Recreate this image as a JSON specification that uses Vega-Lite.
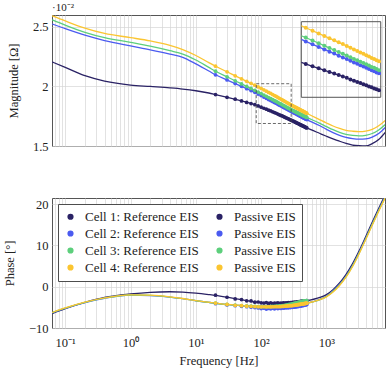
{
 "$schema": "https://vega.github.io/schema/vega-lite/v6.json",
 "background": "white",
 "padding": {"left": 2, "top": 1, "right": 1, "bottom": 2},
 "spacing": 44,
 "config": {
  "view": {"stroke": "#555555", "strokeWidth": 1},
  "font": "Liberation Serif",
  "axis": {"domain": false, "ticks": false, "labelFont": "Liberation Serif", "labelFontSize": 12.5, "labelColor": "#222222", "titleFont": "Liberation Serif", "titleFontSize": 12.5, "titleFontWeight": "normal", "titleColor": "#222222", "gridColor": "#d6d6d6", "gridWidth": 0.7, "labelPadding": 4},
  "axisY": {"titlePadding": 12},
  "axisX": {"labelPadding": 8, "titlePadding": 6},
  "legend": {"labelFont": "Liberation Serif", "titleFont": "Liberation Serif"}
 },
 "resolve": {"scale": {"x": "independent", "y": "independent", "color": "independent"}, "legend": {"color": "independent"}},
 "datasets": {
  "ref": [
   {"s":"R1","f":0.063,"m":2.206,"p":-6.5},{"s":"R1","f":0.1,"m":2.16,"p":-5.3},{"s":"R1","f":0.2,"m":2.09,"p":-3.8},{"s":"R1","f":0.4,"m":2.045,"p":-2.6},{"s":"R1","f":1,"m":2.012,"p":-1.75},{"s":"R1","f":2,"m":2.0,"p":-1.35},{"s":"R1","f":4,"m":1.988,"p":-1.22},{"s":"R1","f":6.3,"m":1.978,"p":-1.3},{"s":"R1","f":10,"m":1.964,"p":-1.55},{"s":"R1","f":15.8,"m":1.945,"p":-1.9},{"s":"R1","f":20,"m":1.932,"p":-2.1},{"s":"R1","f":31.6,"m":1.906,"p":-2.6},{"s":"R1","f":50,"m":1.878,"p":-3.15},{"s":"R1","f":79.4,"m":1.848,"p":-3.65},{"s":"R1","f":84,"m":1.843,"p":-3.7},{"s":"R1","f":100,"m":1.826,"p":-3.85},{"s":"R1","f":126,"m":1.804,"p":-3.95},{"s":"R1","f":158,"m":1.782,"p":-4.0},{"s":"R1","f":200,"m":1.757,"p":-4.0},{"s":"R1","f":288,"m":1.717,"p":-3.85},{"s":"R1","f":316,"m":1.706,"p":-3.8},{"s":"R1","f":500,"m":1.652,"p":-3.4},{"s":"R1","f":794,"m":1.605,"p":-2.6},{"s":"R1","f":1000,"m":1.582,"p":-1.9},{"s":"R1","f":1259,"m":1.56,"p":-0.7},{"s":"R1","f":1585,"m":1.54,"p":0.9},{"s":"R1","f":1995,"m":1.522,"p":3.0},{"s":"R1","f":2512,"m":1.508,"p":5.6},{"s":"R1","f":3162,"m":1.502,"p":8.7},{"s":"R1","f":3981,"m":1.5,"p":12.1},{"s":"R1","f":5012,"m":1.52,"p":15.6},{"s":"R1","f":6310,"m":1.555,"p":19.0},{"s":"R1","f":7943,"m":1.615,"p":22.3},
   {"s":"R2","f":0.063,"m":2.525,"p":-6.35},{"s":"R2","f":0.1,"m":2.485,"p":-5.25},{"s":"R2","f":0.2,"m":2.43,"p":-3.85},{"s":"R2","f":0.4,"m":2.385,"p":-2.8},{"s":"R2","f":1,"m":2.34,"p":-2.05},{"s":"R2","f":2,"m":2.308,"p":-2.15},{"s":"R2","f":4,"m":2.272,"p":-2.5},{"s":"R2","f":6.3,"m":2.245,"p":-2.9},{"s":"R2","f":10,"m":2.19,"p":-3.4},{"s":"R2","f":15.8,"m":2.13,"p":-3.8},{"s":"R2","f":20,"m":2.098,"p":-4.0},{"s":"R2","f":31.6,"m":2.049,"p":-4.35},{"s":"R2","f":50,"m":2.001,"p":-4.6},{"s":"R2","f":79.4,"m":1.951,"p":-4.8},{"s":"R2","f":84,"m":1.945,"p":-4.82},{"s":"R2","f":100,"m":1.923,"p":-4.85},{"s":"R2","f":126,"m":1.895,"p":-4.85},{"s":"R2","f":158,"m":1.866,"p":-4.8},{"s":"R2","f":200,"m":1.837,"p":-4.75},{"s":"R2","f":288,"m":1.791,"p":-4.55},{"s":"R2","f":316,"m":1.779,"p":-4.5},{"s":"R2","f":500,"m":1.722,"p":-4.0},{"s":"R2","f":794,"m":1.67,"p":-3.05},{"s":"R2","f":1000,"m":1.64,"p":-2.3},{"s":"R2","f":1259,"m":1.613,"p":-1.0},{"s":"R2","f":1585,"m":1.59,"p":0.6},{"s":"R2","f":1995,"m":1.572,"p":2.6},{"s":"R2","f":2512,"m":1.562,"p":5.2},{"s":"R2","f":3162,"m":1.557,"p":8.3},{"s":"R2","f":3981,"m":1.56,"p":11.7},{"s":"R2","f":5012,"m":1.575,"p":15.2},{"s":"R2","f":6310,"m":1.605,"p":18.6},{"s":"R2","f":7943,"m":1.655,"p":21.9},
   {"s":"R3","f":0.063,"m":2.559,"p":-6.3},{"s":"R3","f":0.1,"m":2.515,"p":-5.2},{"s":"R3","f":0.2,"m":2.455,"p":-3.8},{"s":"R3","f":0.4,"m":2.41,"p":-2.75},{"s":"R3","f":1,"m":2.37,"p":-2.0},{"s":"R3","f":2,"m":2.338,"p":-2.1},{"s":"R3","f":4,"m":2.3,"p":-2.5},{"s":"R3","f":6.3,"m":2.272,"p":-2.9},{"s":"R3","f":10,"m":2.222,"p":-3.4},{"s":"R3","f":15.8,"m":2.16,"p":-3.8},{"s":"R3","f":20,"m":2.128,"p":-4.0},{"s":"R3","f":31.6,"m":2.075,"p":-4.35},{"s":"R3","f":50,"m":2.021,"p":-4.6},{"s":"R3","f":79.4,"m":1.968,"p":-4.8},{"s":"R3","f":84,"m":1.961,"p":-4.82},{"s":"R3","f":100,"m":1.94,"p":-4.85},{"s":"R3","f":126,"m":1.911,"p":-4.85},{"s":"R3","f":158,"m":1.882,"p":-4.8},{"s":"R3","f":200,"m":1.853,"p":-4.75},{"s":"R3","f":288,"m":1.805,"p":-4.55},{"s":"R3","f":316,"m":1.794,"p":-4.5},{"s":"R3","f":500,"m":1.74,"p":-4.0},{"s":"R3","f":794,"m":1.69,"p":-3.1},{"s":"R3","f":1000,"m":1.663,"p":-2.35},{"s":"R3","f":1259,"m":1.637,"p":-1.15},{"s":"R3","f":1585,"m":1.615,"p":0.45},{"s":"R3","f":1995,"m":1.598,"p":2.45},{"s":"R3","f":2512,"m":1.589,"p":5.05},{"s":"R3","f":3162,"m":1.585,"p":8.15},{"s":"R3","f":3981,"m":1.59,"p":11.55},{"s":"R3","f":5012,"m":1.605,"p":15.05},{"s":"R3","f":6310,"m":1.635,"p":18.45},{"s":"R3","f":7943,"m":1.68,"p":21.75},
   {"s":"R4","f":0.063,"m":2.593,"p":-6.25},{"s":"R4","f":0.1,"m":2.55,"p":-5.15},{"s":"R4","f":0.2,"m":2.49,"p":-3.75},{"s":"R4","f":0.4,"m":2.445,"p":-2.7},{"s":"R4","f":1,"m":2.41,"p":-1.95},{"s":"R4","f":2,"m":2.382,"p":-2.05},{"s":"R4","f":4,"m":2.345,"p":-2.45},{"s":"R4","f":6.3,"m":2.31,"p":-2.85},{"s":"R4","f":10,"m":2.26,"p":-3.35},{"s":"R4","f":15.8,"m":2.2,"p":-3.75},{"s":"R4","f":20,"m":2.17,"p":-3.95},{"s":"R4","f":31.6,"m":2.117,"p":-4.3},{"s":"R4","f":50,"m":2.064,"p":-4.55},{"s":"R4","f":79.4,"m":2.011,"p":-4.75},{"s":"R4","f":84,"m":2.005,"p":-4.78},{"s":"R4","f":100,"m":1.983,"p":-4.82},{"s":"R4","f":126,"m":1.954,"p":-4.82},{"s":"R4","f":158,"m":1.925,"p":-4.78},{"s":"R4","f":200,"m":1.894,"p":-4.72},{"s":"R4","f":288,"m":1.844,"p":-4.52},{"s":"R4","f":316,"m":1.832,"p":-4.47},{"s":"R4","f":500,"m":1.775,"p":-4.0},{"s":"R4","f":794,"m":1.72,"p":-3.15},{"s":"R4","f":1000,"m":1.693,"p":-2.45},{"s":"R4","f":1259,"m":1.668,"p":-1.3},{"s":"R4","f":1585,"m":1.648,"p":0.3},{"s":"R4","f":1995,"m":1.632,"p":2.3},{"s":"R4","f":2512,"m":1.624,"p":4.9},{"s":"R4","f":3162,"m":1.62,"p":8.0},{"s":"R4","f":3981,"m":1.625,"p":11.4},{"s":"R4","f":5012,"m":1.64,"p":14.9},{"s":"R4","f":6310,"m":1.67,"p":18.3},{"s":"R4","f":7943,"m":1.715,"p":21.6}
  ],
  "pas": [
   {"s":"P1","f":20,"m":1.932,"p":-2.05},{"s":"P1","f":30,"m":1.909,"p":-2.55},{"s":"P1","f":40,"m":1.893,"p":-2.95},{"s":"P1","f":50,"m":1.878,"p":-3.1},{"s":"P1","f":60,"m":1.866,"p":-3.4},{"s":"P1","f":70,"m":1.856,"p":-3.45},{"s":"P1","f":80,"m":1.847,"p":-3.75},{"s":"P1","f":90,"m":1.836,"p":-3.7},{"s":"P1","f":100,"m":1.826,"p":-3.9},{"s":"P1","f":110,"m":1.817,"p":-3.95},{"s":"P1","f":120,"m":1.809,"p":-3.85},{"s":"P1","f":130,"m":1.801,"p":-4.05},{"s":"P1","f":140,"m":1.794,"p":-3.9},{"s":"P1","f":150,"m":1.787,"p":-4.1},{"s":"P1","f":160,"m":1.781,"p":-3.95},{"s":"P1","f":170,"m":1.775,"p":-4.05},{"s":"P1","f":180,"m":1.768,"p":-3.9},{"s":"P1","f":190,"m":1.762,"p":-4.1},{"s":"P1","f":200,"m":1.757,"p":-3.95},{"s":"P1","f":210,"m":1.752,"p":-4.05},{"s":"P1","f":220,"m":1.747,"p":-3.9},{"s":"P1","f":230,"m":1.742,"p":-4.05},{"s":"P1","f":240,"m":1.737,"p":-3.9},{"s":"P1","f":250,"m":1.733,"p":-4.0},{"s":"P1","f":260,"m":1.728,"p":-3.85},{"s":"P1","f":270,"m":1.724,"p":-4.0},{"s":"P1","f":280,"m":1.72,"p":-3.85},{"s":"P1","f":290,"m":1.716,"p":-3.95},{"s":"P1","f":300,"m":1.712,"p":-3.8},{"s":"P1","f":310,"m":1.709,"p":-3.9},{"s":"P1","f":320,"m":1.705,"p":-3.75},{"s":"P1","f":330,"m":1.701,"p":-3.85},{"s":"P1","f":340,"m":1.698,"p":-3.7},{"s":"P1","f":350,"m":1.694,"p":-3.8},{"s":"P1","f":360,"m":1.691,"p":-3.65},{"s":"P1","f":370,"m":1.688,"p":-3.75},{"s":"P1","f":380,"m":1.684,"p":-3.6},{"s":"P1","f":390,"m":1.681,"p":-3.7},{"s":"P1","f":400,"m":1.678,"p":-3.55},{"s":"P1","f":410,"m":1.675,"p":-3.65},{"s":"P1","f":420,"m":1.673,"p":-3.5},{"s":"P1","f":430,"m":1.67,"p":-3.6},{"s":"P1","f":440,"m":1.667,"p":-3.45},{"s":"P1","f":450,"m":1.665,"p":-3.55},{"s":"P1","f":460,"m":1.662,"p":-3.4},{"s":"P1","f":470,"m":1.659,"p":-3.5},{"s":"P1","f":480,"m":1.657,"p":-3.4},{"s":"P1","f":490,"m":1.654,"p":-3.45},{"s":"P1","f":500,"m":1.652,"p":-3.35},
   {"s":"P2","f":20,"m":2.098,"p":-4.1},{"s":"P2","f":30,"m":2.055,"p":-4.4},{"s":"P2","f":40,"m":2.024,"p":-4.6},{"s":"P2","f":50,"m":2.001,"p":-4.75},{"s":"P2","f":60,"m":1.981,"p":-4.85},{"s":"P2","f":70,"m":1.965,"p":-4.95},{"s":"P2","f":80,"m":1.951,"p":-5.05},{"s":"P2","f":90,"m":1.936,"p":-5.15},{"s":"P2","f":100,"m":1.923,"p":-5.3},{"s":"P2","f":110,"m":1.911,"p":-5.2},{"s":"P2","f":120,"m":1.9,"p":-5.4},{"s":"P2","f":130,"m":1.89,"p":-5.25},{"s":"P2","f":140,"m":1.882,"p":-5.35},{"s":"P2","f":150,"m":1.873,"p":-5.2},{"s":"P2","f":160,"m":1.865,"p":-5.35},{"s":"P2","f":170,"m":1.858,"p":-5.15},{"s":"P2","f":180,"m":1.85,"p":-5.3},{"s":"P2","f":190,"m":1.843,"p":-5.1},{"s":"P2","f":200,"m":1.837,"p":-5.25},{"s":"P2","f":210,"m":1.831,"p":-5.05},{"s":"P2","f":220,"m":1.825,"p":-5.2},{"s":"P2","f":230,"m":1.82,"p":-5.0},{"s":"P2","f":240,"m":1.814,"p":-5.15},{"s":"P2","f":250,"m":1.809,"p":-4.95},{"s":"P2","f":260,"m":1.804,"p":-5.1},{"s":"P2","f":270,"m":1.799,"p":-4.9},{"s":"P2","f":280,"m":1.795,"p":-5.05},{"s":"P2","f":290,"m":1.79,"p":-4.85},{"s":"P2","f":300,"m":1.786,"p":-5.0},{"s":"P2","f":310,"m":1.782,"p":-4.85},{"s":"P2","f":320,"m":1.778,"p":-4.95},{"s":"P2","f":330,"m":1.774,"p":-4.8},{"s":"P2","f":340,"m":1.771,"p":-4.9},{"s":"P2","f":350,"m":1.767,"p":-4.75},{"s":"P2","f":360,"m":1.763,"p":-4.85},{"s":"P2","f":370,"m":1.76,"p":-4.7},{"s":"P2","f":380,"m":1.756,"p":-4.75},{"s":"P2","f":390,"m":1.753,"p":-4.6},{"s":"P2","f":400,"m":1.75,"p":-4.7},{"s":"P2","f":410,"m":1.747,"p":-4.55},{"s":"P2","f":420,"m":1.744,"p":-4.6},{"s":"P2","f":430,"m":1.741,"p":-4.5},{"s":"P2","f":440,"m":1.738,"p":-4.55},{"s":"P2","f":450,"m":1.735,"p":-4.45},{"s":"P2","f":460,"m":1.732,"p":-4.45},{"s":"P2","f":470,"m":1.73,"p":-4.35},{"s":"P2","f":480,"m":1.727,"p":-4.4},{"s":"P2","f":490,"m":1.725,"p":-4.3},{"s":"P2","f":500,"m":1.722,"p":-4.3},
   {"s":"P3","f":20,"m":2.128,"p":-3.95},{"s":"P3","f":30,"m":2.081,"p":-4.25},{"s":"P3","f":40,"m":2.047,"p":-4.45},{"s":"P3","f":50,"m":2.021,"p":-4.55},{"s":"P3","f":60,"m":2.0,"p":-4.65},{"s":"P3","f":70,"m":1.983,"p":-4.7},{"s":"P3","f":80,"m":1.968,"p":-4.75},{"s":"P3","f":90,"m":1.953,"p":-4.8},{"s":"P3","f":100,"m":1.94,"p":-4.8},{"s":"P3","f":110,"m":1.928,"p":-4.8},{"s":"P3","f":120,"m":1.917,"p":-4.8},{"s":"P3","f":130,"m":1.907,"p":-4.8},{"s":"P3","f":140,"m":1.898,"p":-4.75},{"s":"P3","f":150,"m":1.889,"p":-4.75},{"s":"P3","f":160,"m":1.881,"p":-4.75},{"s":"P3","f":170,"m":1.874,"p":-4.7},{"s":"P3","f":180,"m":1.866,"p":-4.7},{"s":"P3","f":190,"m":1.858,"p":-4.65},{"s":"P3","f":200,"m":1.853,"p":-4.65},{"s":"P3","f":210,"m":1.846,"p":-4.6},{"s":"P3","f":220,"m":1.84,"p":-4.55},{"s":"P3","f":230,"m":1.835,"p":-4.5},{"s":"P3","f":240,"m":1.829,"p":-4.45},{"s":"P3","f":250,"m":1.823,"p":-4.4},{"s":"P3","f":260,"m":1.819,"p":-4.35},{"s":"P3","f":270,"m":1.814,"p":-4.3},{"s":"P3","f":280,"m":1.809,"p":-4.25},{"s":"P3","f":290,"m":1.804,"p":-4.2},{"s":"P3","f":300,"m":1.8,"p":-4.15},{"s":"P3","f":310,"m":1.797,"p":-4.1},{"s":"P3","f":320,"m":1.793,"p":-4.05},{"s":"P3","f":330,"m":1.789,"p":-4.0},{"s":"P3","f":340,"m":1.786,"p":-3.95},{"s":"P3","f":350,"m":1.782,"p":-3.9},{"s":"P3","f":360,"m":1.779,"p":-3.85},{"s":"P3","f":370,"m":1.776,"p":-3.8},{"s":"P3","f":380,"m":1.772,"p":-3.75},{"s":"P3","f":390,"m":1.769,"p":-3.7},{"s":"P3","f":400,"m":1.766,"p":-3.65},{"s":"P3","f":410,"m":1.764,"p":-3.6},{"s":"P3","f":420,"m":1.761,"p":-3.58},{"s":"P3","f":430,"m":1.758,"p":-3.55},{"s":"P3","f":440,"m":1.755,"p":-3.5},{"s":"P3","f":450,"m":1.752,"p":-3.48},{"s":"P3","f":460,"m":1.75,"p":-3.45},{"s":"P3","f":470,"m":1.748,"p":-3.42},{"s":"P3","f":480,"m":1.745,"p":-3.4},{"s":"P3","f":490,"m":1.743,"p":-3.38},{"s":"P3","f":500,"m":1.74,"p":-3.35},
   {"s":"P4","f":20,"m":2.17,"p":-3.95},{"s":"P4","f":30,"m":2.123,"p":-4.3},{"s":"P4","f":40,"m":2.089,"p":-4.5},{"s":"P4","f":50,"m":2.064,"p":-4.6},{"s":"P4","f":60,"m":2.043,"p":-4.7},{"s":"P4","f":70,"m":2.026,"p":-4.75},{"s":"P4","f":80,"m":2.011,"p":-4.8},{"s":"P4","f":90,"m":1.996,"p":-4.85},{"s":"P4","f":100,"m":1.983,"p":-4.9},{"s":"P4","f":110,"m":1.971,"p":-4.85},{"s":"P4","f":120,"m":1.96,"p":-4.9},{"s":"P4","f":130,"m":1.95,"p":-4.85},{"s":"P4","f":140,"m":1.941,"p":-4.9},{"s":"P4","f":150,"m":1.932,"p":-4.85},{"s":"P4","f":160,"m":1.924,"p":-4.85},{"s":"P4","f":170,"m":1.916,"p":-4.8},{"s":"P4","f":180,"m":1.908,"p":-4.85},{"s":"P4","f":190,"m":1.9,"p":-4.8},{"s":"P4","f":200,"m":1.894,"p":-4.8},{"s":"P4","f":210,"m":1.887,"p":-4.75},{"s":"P4","f":220,"m":1.881,"p":-4.75},{"s":"P4","f":230,"m":1.875,"p":-4.7},{"s":"P4","f":240,"m":1.869,"p":-4.7},{"s":"P4","f":250,"m":1.863,"p":-4.65},{"s":"P4","f":260,"m":1.858,"p":-4.65},{"s":"P4","f":270,"m":1.853,"p":-4.6},{"s":"P4","f":280,"m":1.848,"p":-4.6},{"s":"P4","f":290,"m":1.843,"p":-4.55},{"s":"P4","f":300,"m":1.839,"p":-4.55},{"s":"P4","f":310,"m":1.835,"p":-4.5},{"s":"P4","f":320,"m":1.831,"p":-4.5},{"s":"P4","f":330,"m":1.827,"p":-4.45},{"s":"P4","f":340,"m":1.824,"p":-4.45},{"s":"P4","f":350,"m":1.82,"p":-4.4},{"s":"P4","f":360,"m":1.816,"p":-4.35},{"s":"P4","f":370,"m":1.813,"p":-4.35},{"s":"P4","f":380,"m":1.809,"p":-4.3},{"s":"P4","f":390,"m":1.806,"p":-4.3},{"s":"P4","f":400,"m":1.803,"p":-4.25},{"s":"P4","f":410,"m":1.8,"p":-4.2},{"s":"P4","f":420,"m":1.797,"p":-4.2},{"s":"P4","f":430,"m":1.794,"p":-4.15},{"s":"P4","f":440,"m":1.791,"p":-4.15},{"s":"P4","f":450,"m":1.788,"p":-4.1},{"s":"P4","f":460,"m":1.785,"p":-4.1},{"s":"P4","f":470,"m":1.783,"p":-4.05},{"s":"P4","f":480,"m":1.78,"p":-4.05},{"s":"P4","f":490,"m":1.778,"p":-4.0},{"s":"P4","f":500,"m":1.775,"p":-4.0}
  ]
 },
 "vconcat": [
  {
   "width": 333, "height": 131,
   "resolve": {"scale": {"x": "independent", "y": "independent"}},
   "layer": [
    {
     "layer": [
      {
       "data": {"name": "ref"},
       "mark": {"type": "line", "strokeWidth": 1.3, "clip": true, "interpolate": "monotone"},
       "encoding": {
        "x": {"field": "f", "type": "quantitative", "scale": {"type": "log", "domain": [0.0627, 7870], "nice": false},
              "axis": {"labels": false, "title": null, "grid": true,
                       "values": [0.07,0.08,0.09,0.1,0.2,0.3,0.4,0.5,0.6,0.7,0.8,0.9,1,2,3,4,5,6,7,8,9,10,20,30,40,50,60,70,80,90,100,200,300,400,500,600,700,800,900,1000,2000,3000,4000,5000,6000,7000]}},
        "y": {"field": "m", "type": "quantitative", "scale": {"domain": [1.5, 2.6], "nice": false, "zero": false},
              "axis": {"values": [1.5, 2, 2.5], "title": "Magnitude [Ω]", "labelExpr": "datum.value == 2 ? '2' : datum.label"}},
        "color": {"field": "s", "type": "nominal", "legend": null,
                  "scale": {"domain": ["R1","R2","R3","R4","P1","P2","P3","P4"], "range": ["#2a2265","#4b5bf0","#5dcf7c","#fbc531","#2a2265","#4b5bf0","#5dcf7c","#fbc531"]}}
       }
      },
      {
       "data": {"name": "pas"},
       "mark": {"type": "circle", "size": 14, "opacity": 1, "clip": true},
       "encoding": {
        "x": {"field": "f", "type": "quantitative"},
        "y": {"field": "m", "type": "quantitative"},
        "color": {"field": "s", "type": "nominal", "legend": null}
       }
      },
      {
       "data": {"values": [{"zoom": "window"}]},
       "mark": {"type": "rect", "fillOpacity": 0, "stroke": "#444444", "strokeWidth": 0.8, "strokeDash": [3, 2]},
       "encoding": {
        "x": {"datum": 84, "type": "quantitative"},
        "x2": {"datum": 288},
        "y": {"datum": 1.689, "type": "quantitative"},
        "y2": {"datum": 2.023}
       }
      },
      {
       "data": {"values": [{"zoom": "window"}]},
       "mark": {"type": "text", "text": "·10⁻²", "align": "left", "baseline": "bottom", "dy": -2, "fontSize": 11, "font": "Liberation Serif", "color": "#222222"},
       "encoding": {
        "x": {"datum": 0.0627, "type": "quantitative"},
        "y": {"datum": 2.6, "type": "quantitative"}
       }
      }
     ]
    },
    {
     "layer": [
      {
       "data": {"values": [{"zoom": "window"}]},
       "mark": {"type": "rect", "fillOpacity": 0, "stroke": "#555555", "strokeWidth": 1},
       "encoding": {
        "x": {"datum": 84, "type": "quantitative", "scale": {"type": "log", "domain": [1.757, 307.7], "nice": false}, "axis": null},
        "x2": {"datum": 288},
        "y": {"datum": 1.689, "type": "quantitative", "scale": {"domain": [1.4738, 2.0526], "nice": false, "zero": false}, "axis": null},
        "y2": {"datum": 2.023}
       }
      },
      {
       "data": {"name": "ref"},
       "transform": [{"filter": "datum.f >= 84 && datum.f <= 288"}],
       "mark": {"type": "line", "strokeWidth": 1.3, "interpolate": "monotone"},
       "encoding": {
        "x": {"field": "f", "type": "quantitative", "axis": null},
        "y": {"field": "m", "type": "quantitative", "axis": null},
        "color": {"field": "s", "type": "nominal", "legend": null}
       }
      },
      {
       "data": {"name": "pas"},
       "transform": [{"filter": "datum.f >= 84 && datum.f <= 288"}],
       "mark": {"type": "circle", "size": 16, "opacity": 1},
       "encoding": {
        "x": {"field": "f", "type": "quantitative", "axis": null},
        "y": {"field": "m", "type": "quantitative", "axis": null},
        "color": {"field": "s", "type": "nominal", "legend": null}
       }
      }
     ]
    }
   ]
  },
  {
   "width": 333, "height": 130,
   "layer": [
    {
     "data": {"name": "ref"},
     "mark": {"type": "line", "strokeWidth": 1.3, "clip": true, "interpolate": "monotone"},
     "encoding": {
      "x": {"field": "f", "type": "quantitative", "scale": {"type": "log", "domain": [0.0627, 7870], "nice": false},
            "axis": {"title": "Frequency [Hz]", "grid": true,
                     "values": [0.07,0.08,0.09,0.1,0.2,0.3,0.4,0.5,0.6,0.7,0.8,0.9,1,2,3,4,5,6,7,8,9,10,20,30,40,50,60,70,80,90,100,200,300,400,500,600,700,800,900,1000,2000,3000,4000,5000,6000,7000],
                     "labelExpr": "datum.value == 0.1 ? '10⁻¹' : datum.value == 1 ? '10⁰' : datum.value == 10 ? '10¹' : datum.value == 100 ? '10²' : datum.value == 1000 ? '10³' : ''"}},
      "y": {"field": "p", "type": "quantitative", "scale": {"domain": [-10, 21.5], "nice": false, "zero": false},
            "axis": {"values": [-10, 0, 10, 20], "title": "Phase [°]"}},
      "color": {"field": "s", "type": "nominal",
                "scale": {"domain": ["R1","R2","R3","R4","P1","P2","P3","P4"], "range": ["#2a2265","#4b5bf0","#5dcf7c","#fbc531","#2a2265","#4b5bf0","#5dcf7c","#fbc531"]},
                "legend": {"title": null, "orient": "top-left", "offset": 6, "columns": 2, "columnPadding": 14, "rowPadding": 3, "padding": 6,
                           "fillColor": "white", "strokeColor": "#4d4d4d", "labelFont": "Liberation Serif", "labelFontSize": 13, "labelColor": "#222222", "symbolSize": 22, "labelOffset": 8,
                           "labelExpr": "datum.value[0] == 'R' ? 'Cell ' + datum.value[1] + ': Reference EIS' : 'Passive EIS'"}}
     }
    },
    {
     "data": {"name": "pas"},
     "mark": {"type": "circle", "size": 14, "opacity": 1, "clip": true},
     "encoding": {
      "x": {"field": "f", "type": "quantitative"},
      "y": {"field": "p", "type": "quantitative"},
      "color": {"field": "s", "type": "nominal"}
     }
    }
   ]
  }
 ]
}
